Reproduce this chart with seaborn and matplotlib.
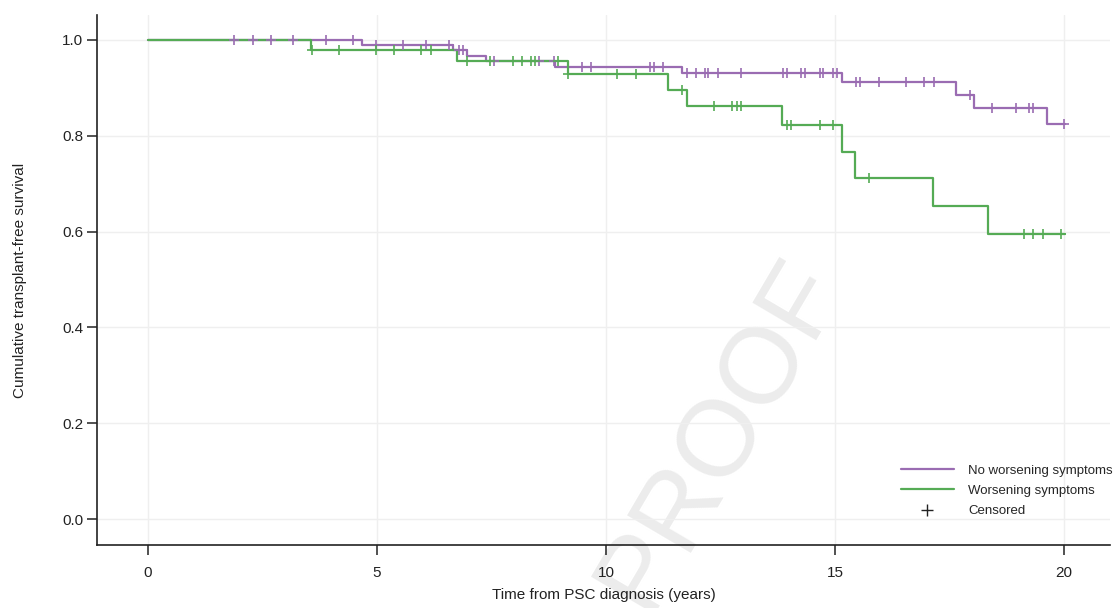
import numpy as np
import pandas as pd
import seaborn as sns
import matplotlib
import matplotlib.pyplot as plt
from matplotlib.lines import Line2D

matplotlib.use("Agg")

# Kaplan-Meier steps (time in years, survival after the step)
no_worse_times = [0, 4.67, 6.67, 6.96, 7.38, 8.89, 11.65, 15.15, 17.63, 18.03, 19.62]
no_worse_surv = [1.0, 0.989, 0.979, 0.967, 0.956, 0.944, 0.932, 0.912, 0.885, 0.857, 0.825]
no_worse_censored = [1.88, 2.29, 2.69, 3.17, 3.88, 4.47, 4.98, 5.57, 6.07, 6.57, 6.78,
                     6.87, 7.56, 8.54, 8.87, 9.47, 9.67, 10.96, 11.05, 11.25, 11.76,
                     11.97, 12.16, 12.23, 12.45, 12.95, 13.86, 13.94, 14.25, 14.34,
                     14.66, 14.74, 14.96, 15.05, 15.46, 15.55, 15.95, 16.55, 16.94,
                     17.15, 17.95, 18.43, 18.94, 19.24, 19.33, 20.0]

worse_times = [0, 3.57, 6.75, 9.16, 11.35, 11.76, 13.85, 15.15, 15.44, 17.13, 18.33]
worse_surv = [1.0, 0.979, 0.957, 0.928, 0.896, 0.863, 0.822, 0.767, 0.711, 0.653, 0.594]
worse_censored = [3.58, 4.17, 4.98, 5.37, 5.97, 6.17, 6.97, 7.47, 7.96, 8.16, 8.36, 8.46,
                  8.96, 9.17, 10.25, 10.66, 11.65, 12.36, 12.76, 12.85, 12.95, 13.96,
                  14.04, 14.66, 14.95, 15.74, 19.13, 19.33, 19.53, 19.93]

follow_up_end = 20.02
groups = ["No worsening symptoms", "Worsening symptoms"]
colors = {"No worsening symptoms": "#9a6cb2", "Worsening symptoms": "#55ab55"}


def step_value(times, surv, t):
    # survival value of the step curve at time t
    idx = np.searchsorted(times, t, side="right") - 1
    return surv[idx]


curve_rows = []
cens_rows = []
for name, times, surv, cens in [
    (groups[0], no_worse_times, no_worse_surv, no_worse_censored),
    (groups[1], worse_times, worse_surv, worse_censored),
]:
    for t, s in zip(times + [follow_up_end], surv + [surv[-1]]):
        curve_rows.append({"time": t, "surv": s, "group": name})
    for t in cens:
        cens_rows.append({"time": t, "surv": step_value(times, surv, t), "group": name})

curves = pd.DataFrame(curve_rows)
censored = pd.DataFrame(cens_rows)

sns.set_theme(style="whitegrid")
plt.rcParams["font.family"] = ["Liberation Sans", "DejaVu Sans"]

fig = plt.figure(figsize=(11.13, 6.08), dpi=100)
ax = fig.add_axes([0.0872, 0.1036, 0.9101, 0.8717])
ax.patch.set_alpha(0)

# watermark, behind everything
fig.text(0.647, 0.285, "PROOF", rotation=59.5, fontsize=78, color="#ececec",
         ha="center", va="center", zorder=-1)

for name in groups:
    sub = curves[curves["group"] == name]
    sns.lineplot(data=sub, x="time", y="surv", ax=ax, color=colors[name],
                 drawstyle="steps-post", estimator=None, sort=False,
                 linewidth=1.6, legend=False, zorder=3)
    csub = censored[censored["group"] == name]
    sns.scatterplot(data=csub, x="time", y="surv", ax=ax, color=colors[name],
                    marker="+", s=55, linewidth=1.2, legend=False, zorder=4)

ax.set_xlim(-1.11, 21.0)
ax.set_ylim(-0.054, 1.052)
ax.set_xticks([0, 5, 10, 15, 20])
ax.set_yticks([0.0, 0.2, 0.4, 0.6, 0.8, 1.0])
ax.set_yticklabels([f"{v:.1f}" for v in [0.0, 0.2, 0.4, 0.6, 0.8, 1.0]])
ax.grid(True, color="#efefef", linewidth=1.0)

for side in ["top", "right"]:
    ax.spines[side].set_visible(False)
for side in ["left", "bottom"]:
    ax.spines[side].set_color("#222222")
    ax.spines[side].set_linewidth(1.2)

ax.tick_params(axis="both", which="major", direction="out", length=7,
               width=1.1, color="#222222", labelsize=11, labelcolor="#222222",
               bottom=True, left=True)
ax.tick_params(axis="x", pad=8)
ax.tick_params(axis="y", pad=3)

ax.set_xlabel("Time from PSC diagnosis (years)", fontsize=11, color="#222222", labelpad=6)
ax.set_ylabel("Cumulative transplant-free survival", fontsize=11, color="#222222", labelpad=25)

handles = [
    Line2D([0], [0], color=colors[groups[0]], linewidth=1.6),
    Line2D([0], [0], color=colors[groups[1]], linewidth=1.6),
    Line2D([0], [0], color="#222222", marker="+", linestyle="none", markersize=8, mew=1.0),
]
ax.legend(handles, groups + ["Censored"], loc="lower right", frameon=False,
          fontsize=9.5, handlelength=4.0, handletextpad=1.1, labelspacing=0.6,
          bbox_to_anchor=(1.012, 0.035), borderaxespad=0.3)

fig.savefig("out.png", dpi=100)
